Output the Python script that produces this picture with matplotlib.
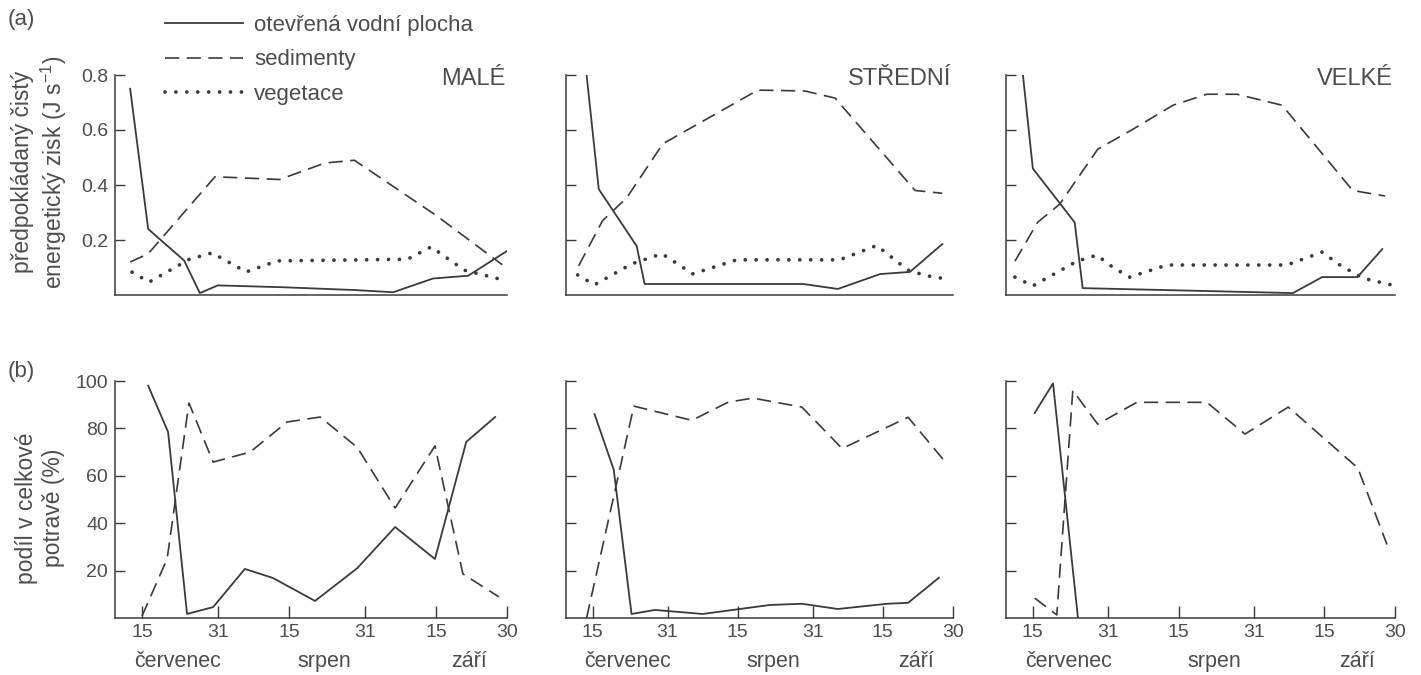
import matplotlib
matplotlib.use("Agg")
import matplotlib.pyplot as plt

plt.rcParams["font.family"] = ["Liberation Sans", "DejaVu Sans"]
plt.rcParams["mathtext.fontset"] = "custom"
plt.rcParams["mathtext.rm"] = "Liberation Sans"

# days counted from 15 July
tick_days = [0, 16, 31, 47, 62, 77]
tick_labels = ["15", "31", "15", "31", "15", "30"]
month_days = [7.5, 38.5, 69]
month_names = ["červenec", "srpen", "září"]
y_ticks_a = [0.2, 0.4, 0.6, 0.8]
y_ticks_b = [20, 40, 60, 80, 100]
pond_names = ["MALÉ", "STŘEDNÍ", "VELKÉ"]
series_names = ["otevřená vodní plocha", "sedimenty", "vegetace"]

# (a) predicted net energy gain, J s-1
male_open_days = [-2.5, 1.3, 8.9, 12.2, 16, 30, 45, 53, 61.4, 68.8, 77]
male_open = [0.75, 0.24, 0.125, 0.007, 0.035, 0.028, 0.018, 0.01, 0.06, 0.07, 0.16]
male_sed_days = [-2.5, 1.3, 15.4, 29, 38.6, 44.8, 62, 76]
male_sed = [0.12, 0.15, 0.43, 0.42, 0.48, 0.49, 0.29, 0.11]
male_veg_days = [-2.1, 1.5, 10, 14.8, 22, 28.5, 56, 61, 68, 75.5]
male_veg = [0.083, 0.047, 0.13, 0.153, 0.084, 0.124, 0.13, 0.175, 0.09, 0.058]

stredni_open_days = [-1.3, 1.3, 9.4, 11.1, 45, 52.4, 61.4, 67.8, 74.7]
stredni_open = [0.8, 0.385, 0.178, 0.04, 0.04, 0.022, 0.076, 0.084, 0.185]
stredni_sed_days = [-3, 2.1, 7.3, 15, 35.3, 45.3, 51.8, 68.9, 74.7]
stredni_sed = [0.106, 0.27, 0.354, 0.55, 0.745, 0.742, 0.716, 0.38, 0.37]
stredni_veg_days = [-3.2, 0.4, 8.3, 14.8, 21.4, 30.8, 52.8, 60.7, 67.4, 71.4, 75.7]
stredni_veg = [0.073, 0.037, 0.113, 0.15, 0.077, 0.128, 0.128, 0.18, 0.09, 0.07, 0.058]

velke_open_days = [-2.1, 0, 8.9, 10.6, 55.3, 61.5, 69, 74.3]
velke_open = [0.8, 0.46, 0.264, 0.025, 0.007, 0.065, 0.065, 0.167]
velke_sed_days = [-3.8, 1, 5.7, 13.8, 21, 29.8, 37, 43.4, 53, 68, 74.9]
velke_sed = [0.123, 0.264, 0.33, 0.53, 0.6, 0.69, 0.73, 0.73, 0.69, 0.38, 0.36]
velke_veg_days = [-3.8, 0, 9.4, 13.6, 17, 20.6, 28.5, 54, 61.5, 65, 70.2, 76.4]
velke_veg = [0.065, 0.033, 0.123, 0.145, 0.101, 0.065, 0.109, 0.109, 0.156, 0.112, 0.061, 0.036]

# (b) share of total diet, %
male_open_pct_days = [1.3, 5.5, 9.5, 15, 21.7, 27.6, 36.5, 45.4, 53.4, 61.8, 68.4, 74.5]
male_open_pct = [98, 78.5, 1.7, 4.6, 20.7, 16.9, 7.2, 21, 38.4, 24.9, 74.3, 84.8]
male_sed_pct_days = [0, 5.3, 9.9, 15, 22.8, 30.6, 37.6, 45.4, 53.4, 61.8, 67.7, 75.3]
male_sed_pct = [0.8, 25, 90.7, 65.8, 70, 82.7, 84.8, 72, 46.4, 72.6, 18.6, 8.9]

stredni_open_pct_days = [0.4, 4.5, 8.3, 13.3, 23.5, 37.9, 44.7, 52.4, 62.9, 67.4, 74]
stredni_open_pct = [86, 62.6, 1.7, 3.4, 1.7, 5.5, 6, 3.8, 6, 6.4, 17]
stredni_sed_pct_days = [-1.3, 8.8, 21.2, 28.9, 34.2, 44.7, 53.3, 67.4, 75.5]
stredni_sed_pct = [0, 89.4, 83.4, 91, 92.8, 89, 71.5, 84.7, 65.5]

velke_open_pct_days = [0.4, 4.3, 9.6]
velke_open_pct = [86.5, 99, 0]
velke_sed_pct_days = [0.4, 5.1, 8.5, 13.8, 22.1, 37, 45.1, 54.3, 69.1, 75.3]
velke_sed_pct = [8.4, 1.3, 96, 81.8, 91, 91, 77.6, 89, 63.3, 31]

ink = "#3a3a3a"
text_gray = "#4d4d4d"
solid_style = dict(color=ink, lw=1.3, linestyle="-")
dashed_style = dict(color=ink, lw=1.2, linestyle=(0, (8.5, 4.5)))
dotted_style = dict(color=ink, lw=2.7, linestyle=(0, (0.01, 2.9)), dash_capstyle="round")

W, H = 1421, 675
fig = plt.figure(figsize=(W / 100, H / 100), dpi=100)
fig.patch.set_facecolor("white")

# pixel boxes (left, right) of each column, (top, bottom) of each row
columns = [(115, 507), (566, 953), (1006, 1395)]
rows = [(75, 295), (381, 618)]


def make_axes(col, row):
    left, right = columns[col]
    top, bottom = rows[row]
    ax = fig.add_axes([left / W, 1 - bottom / H, (right - left) / W, (bottom - top) / H])
    ax.set_xlim(-5.7, 77)
    for side in ["top", "right"]:
        ax.spines[side].set_visible(False)
    for side in ["left", "bottom"]:
        ax.spines[side].set_color(ink)
        ax.spines[side].set_linewidth(1.1)
    ax.tick_params(axis="y", direction="in", length=7, width=1.0, color=ink,
                   labelsize=14, labelcolor=text_gray, pad=5)
    ax.tick_params(axis="x", direction="in", length=9, width=1.0, color=ink,
                   labelsize=14, labelcolor=text_gray, pad=4)
    return ax


panels_a = [
    (male_open_days, male_open, male_sed_days, male_sed, male_veg_days, male_veg),
    (stredni_open_days, stredni_open, stredni_sed_days, stredni_sed, stredni_veg_days, stredni_veg),
    (velke_open_days, velke_open, velke_sed_days, velke_sed, velke_veg_days, velke_veg),
]
panels_b = [
    (male_open_pct_days, male_open_pct, male_sed_pct_days, male_sed_pct),
    (stredni_open_pct_days, stredni_open_pct, stredni_sed_pct_days, stredni_sed_pct),
    (velke_open_pct_days, velke_open_pct, velke_sed_pct_days, velke_sed_pct),
]

legend_handles = None
for col in range(3):
    od, ov, sd, sv, vd, vv = panels_a[col]
    ax = make_axes(col, 0)
    ax.set_ylim(0, 0.8)
    h1, = ax.plot(od, ov, **solid_style)
    h2, = ax.plot(sd, sv, **dashed_style)
    h3, = ax.plot(vd, vv, **dotted_style)
    ax.set_xticks([])
    ax.set_yticks(y_ticks_a)
    if col == 0:
        ax.set_yticklabels([f"{t:.1f}" for t in y_ticks_a])
        legend_handles = [h1, h2, h3]
    else:
        ax.set_yticklabels([])
    ax.text(0.995, 1.03, pond_names[col], transform=ax.transAxes, ha="right", va="top",
            fontsize=17, color=text_gray)
    if col == 0:
        ax.legend(legend_handles, series_names, loc="upper left", frameon=False,
                  bbox_to_anchor=(145 / W, 1 + 5 / H), bbox_transform=fig.transFigure,
                  fontsize=16, handlelength=3.5, handletextpad=0.5, labelspacing=0.6,
                  labelcolor=text_gray)

for col in range(3):
    od, ov, sd, sv = panels_b[col]
    ax = make_axes(col, 1)
    ax.set_ylim(0, 100)
    ax.plot(od, ov, **solid_style)
    ax.plot(sd, sv, **dashed_style)
    ax.set_xticks(tick_days)
    ax.set_xticklabels(tick_labels)
    ax.set_yticks(y_ticks_b)
    if col == 0:
        ax.set_yticklabels([str(t) for t in y_ticks_b])
    else:
        ax.set_yticklabels([])
    for day, name in zip(month_days, month_names):
        ax.text(day, -0.185, name, transform=ax.get_xaxis_transform(), ha="center",
                va="center", fontsize=15.5, color=text_gray)

fig.text(40 / W, 1 - 172 / H, "předpokládaný čistý\nenergetický zisk (J s$^{-1}$)",
         rotation=90, ha="center", va="center", multialignment="center",
         fontsize=16.5, color=text_gray, linespacing=1.25)
fig.text(40 / W, 1 - 508 / H, "podíl v celkové\npotravě (%)",
         rotation=90, ha="center", va="center", multialignment="center",
         fontsize=16.5, color=text_gray, linespacing=1.25)
fig.text(8 / W, 1 - 20 / H, "(a)", ha="left", va="center", fontsize=16, color=text_gray)
fig.text(8 / W, 1 - 372 / H, "(b)", ha="left", va="center", fontsize=16, color=text_gray)

fig.savefig("out.png", dpi=100, facecolor="white")
